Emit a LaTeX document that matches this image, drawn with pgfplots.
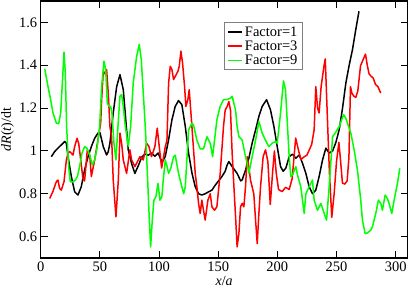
\documentclass[border=0pt]{standalone}
\usepackage{pgfplots}
\pgfplotsset{compat=1.18}
\usepackage{fontspec}
\setmainfont{Liberation Serif}
\newfontfamily\tnr{Liberation Serif}
\definecolor{gr}{RGB}{0,255,0}
\definecolor{rd}{RGB}{255,0,0}
\begin{document}
\begin{tikzpicture}
\begin{axis}[
  scale only axis,
  width=366.8pt, height=257pt,
  xmin=0, xmax=310, ymin=0.5, ymax=1.7,
  xtick={0,50,100,150,200,250,300},
  ytick={0.6,0.8,1,1.2,1.4,1.6},
  yticklabels={0.6,0.8,1,1.2,1.4,1.6},
  tick align=inside,
  major tick length=7pt,
  minor tick num=0,
  tick style={line width=1pt, black},
  axis line style={line width=1.5pt},
  ticklabel style={font=\tnr\fontsize{14.5}{14.5}\selectfont},
  /pgf/number format/assume math mode=true,
  xlabel={\textit{x}/\textit{a}},
  ylabel={\textit{dR}(\textit{t})/dt},
  label style={font=\tnr\fontsize{14}{14}\selectfont},
  xlabel style={at={(axis description cs:0.5,-0.0895)}, anchor=center},
  ylabel style={at={(axis description cs:-0.0905,0.5)}, anchor=center},
  legend style={at={(axis description cs:0.4997,0.918)}, anchor=north west,
    draw=gray, line width=1pt, inner xsep=3pt, inner ysep=2pt, row sep=-1pt,
    font=\tnr\fontsize{14.5}{14.5}\selectfont},
  legend cell align=left,
  legend image code/.code={\draw[#1, line width=1.5pt] (0pt,0pt) -- (14pt,0pt);},
  every axis plot/.append style={line width=1.5pt, line join=round},
]
\addplot[black] coordinates {
(9.0,0.973)(11.8,0.997)(14.6,1.013)(17.4,1.028)(20.3,1.044)(21.7,1.036)(23.1,0.973)(25.9,0.88)(28.7,0.809)(31.5,0.794)(34.3,0.833)(37.1,0.911)(40.0,0.973)(42.8,1.02)(45.6,1.059)(48.4,1.083)(50.1,1.085)(52.9,1.02)(55.7,0.981)(57.1,0.997)(58.5,1.036)(61.3,1.177)(64.2,1.30)(67.0,1.356)(69.8,1.286)(72.6,1.098)(74.0,1.005)(76.8,0.942)(79.6,0.895)(82.4,0.93)(85.3,0.97)(88.1,0.985)(90.9,0.98)(93.6,0.99)(96.5,0.975)(99.3,0.99)(101.5,0.96)(103,0.95)(105.3,0.975)(108.1,1.052)(110.9,1.145)(113.7,1.208)(116.5,1.235)(119.3,1.216)(122.2,1.114)(125.0,0.989)(127.9,0.895)(130.6,0.833)(133.4,0.80)(136.2,0.794)(139.0,0.80)(141.9,0.809)(144.7,0.817)(147.5,0.84)(150.3,0.86)(153.1,0.88)(155.9,0.905)(157.6,0.935)(159.0,0.95)(161.8,0.927)(166.0,0.895)(169,0.86)(170.3,0.865)(173.1,0.91)(175.9,0.965)(178.7,1.036)(181.6,1.098)(184.4,1.161)(187.2,1.208)(190.9,1.239)(194.2,1.192)(197.1,1.114)(199.9,1.02)(202.7,0.927)(204.9,0.905)(207.2,0.92)(210,0.973)(212.8,0.985)(215.6,0.966)(218.5,0.981)(221.3,0.942)(224.1,0.895)(226.9,0.833)(229.7,0.80)(232.5,0.817)(235.3,0.88)(238.2,0.958)(241,1.013)(243.8,0.99)(246.7,1.0)(249.5,1.04)(252.3,1.10)(255.1,1.20)(257.9,1.317)(260.7,1.40)(263.5,1.473)(266.3,1.567)(269.0,1.652)
};
\addlegendentry{Factor=1}
\addplot[rd] coordinates {
(7.6,0.778)(10.2,0.809)(13.2,0.856)(14.6,0.864)(16.0,0.825)(17.4,0.817)(19.7,0.856)(21.7,0.958)(23.1,0.989)(24.5,0.997)(25.9,0.989)(27.3,0.981)(28.7,1.02)(30.7,1.059)(32.1,1.036)(33.5,0.973)(35.7,0.87)(37.1,0.86)(39.4,1.005)(41.4,0.981)(42.8,0.88)(45.6,0.958)(48.4,1.052)(50.7,1.13)(51.5,1.239)(52.9,1.372)(54.3,1.36)(55.7,1.38)(57.1,1.27)(58.5,1.114)(59.9,1.067)(61.3,0.864)(63.6,0.692)(65.6,0.864)(67.0,1.083)(68.4,1.036)(69.8,0.958)(72.6,0.895)(75.4,1.005)(76.8,0.958)(79.6,0.927)(81.0,0.942)(83.9,0.973)(86.7,0.958)(89.5,1.036)(91.5,1.02)(93.6,0.973)(96.5,1.02)(98.5,1.106)(100.2,1.02)(102.2,0.92)(103.9,0.973)(105.3,1.02)(106.7,1.05)(108.1,1.317)(109.5,1.395)(110.9,1.38)(112.3,1.333)(113.7,1.348)(116.0,1.372)(117.1,1.395)(118.5,1.466)(119.9,1.41)(121.6,1.30)(122.7,1.208)(124.4,1.24)(125.5,1.286)(127.2,1.16)(129.2,1.005)(130.6,0.895)(132.0,0.833)(133.4,0.755)(134.8,0.708)(136.2,0.77)(137.6,0.723)(139.0,0.677)(141.3,0.77)(143.3,0.80)(144.7,0.739)(146.9,0.723)(148.9,0.739)(151.7,0.895)(154.5,1.114)(155.9,1.19)(157.6,1.208)(159.0,1.231)(160.4,1.19)(161.8,0.989)(163.3,0.833)(164.7,0.692)(166.0,0.552)(167.5,0.614)(168.9,0.739)(170.3,0.755)(171.7,0.739)(173.1,0.833)(174.5,0.973)(175.9,0.927)(177.3,0.864)(180.1,0.80)(181.6,0.677)(183.0,0.567)(184.4,0.708)(185.8,0.833)(188.0,0.973)(190.0,1.005)(192,0.95)(194,0.75)(196,0.9)(197.5,1.0)(199,0.9)(201,0.82)(204,0.81)(207,0.83)(210,0.82)(212.5,0.87)(215.5,1.06)(218,1.0)(220,0.96)(222.7,0.973)(225,0.98)(227,1.005)(229,1.03)(231.1,1.098)(232.5,1.3)(234,1.2)(235.3,1.177)(237,1.3)(239.5,1.40)(240.5,1.43)(242,1.2)(244,0.9)(246,0.69)(248,0.8)(250,0.95)(252,1.04)(253.5,0.95)(255,0.85)(257,0.845)(259,0.86)(260.5,0.97)(261.8,1.3)(263,1.27)(264.6,1.256)(266.3,1.25)(268,1.28)(270.3,1.397)(272,1.42)(274.5,1.452)(276,1.40)(277.5,1.36)(279,1.35)(281,1.34)(283,1.31)(285,1.30)(287.4,1.27)
};
\addlegendentry{Factor=3}
\addplot[gr] coordinates {
(3.4,1.384)(6.2,1.30)(8.4,1.239)(10.4,1.177)(13.2,1.13)(15.2,1.127)(16.9,1.177)(18.6,1.348)(19.7,1.461)(20.8,1.364)(21.9,1.114)(23.6,0.927)(25.0,0.856)(27.3,0.856)(29.3,0.864)(31.0,0.88)(32.9,0.927)(34.9,0.989)(37.1,1.02)(39.1,1.013)(41.4,0.981)(43.6,0.934)(45.6,0.958)(47.8,1.02)(49.8,1.114)(51.5,1.30)(53.5,1.419)(54.9,1.38)(56.3,1.223)(57.7,1.208)(59.1,1.208)(60.2,1.177)(61.9,1.036)(63.6,0.958)(65.3,1.114)(67.0,1.255)(68.4,1.263)(69.8,1.208)(71.2,1.13)(74.0,1.02)(76.0,1.114)(78.2,1.317)(81.1,1.442)(83.3,1.497)(85.0,1.427)(86.7,1.27)(88.7,1.083)(90.4,0.864)(91.7,0.692)(92.9,0.552)(94.3,0.677)(95.7,0.77)(97.4,0.786)(99.1,0.848)(100.8,0.77)(102.4,0.786)(103.5,0.86)(105.3,0.958)(106.7,0.93)(108.1,0.895)(110,0.92)(112.3,0.973)(113.7,0.98)(116.5,0.895)(119,0.84)(120.8,0.80)(122.2,0.833)(125,1.098)(127.9,1.13)(129.2,1.12)(132,1.05)(134.8,1.01)(137.6,1.01)(140.5,1.066)(143.3,1.036)(145.3,0.973)(148.9,1.145)(151.7,1.208)(154.5,1.239)(157.6,1.24)(160.4,1.247)(161.8,1.255)(164.7,1.19)(166,1.114)(167.5,1.067)(170.3,1.05)(173.1,0.973)(174.5,0.942)(175.9,0.895)(178.7,0.973)(181.6,1.05)(184.4,1.137)(187.2,1.083)(190,1.05)(192.8,1.02)(195.6,1.036)(198.5,1.044)(199.9,1.036)(202.7,1.177)(205.2,1.327)(206.9,1.286)(208.6,1.114)(210,0.973)(211.4,0.88)(212.8,0.888)(215.6,0.927)(217,0.888)(219.8,0.833)(222.7,0.708)(224.1,0.80)(226.9,0.833)(229.7,0.864)(231.1,0.77)(233.9,0.723)(236.8,0.755)(239.6,0.708)(241.6,0.677)(243.8,0.833)(246.7,1.067)(248.9,1.083)(252.3,1.114)(256,1.17)(258,1.15)(262.1,1.083)(264.9,1.005)(267.7,0.91)(270.5,0.77)(271.9,0.677)(274.2,0.614)(276.1,0.617)(278.9,0.63)(280.3,0.645)(283.2,0.708)(285.4,0.77)(287.4,0.755)(288.8,0.723)(291.1,0.794)(293,0.778)(294.4,0.755)(296.7,0.708)(298.7,0.77)(301.5,0.848)(303.5,0.919)
};
\addlegendentry{Factor=9}
\end{axis}
\pgfresetboundingbox
\path[use as bounding box] (-40.7pt,-31pt) rectangle (368.3pt,258pt);
\end{tikzpicture}
\end{document}
